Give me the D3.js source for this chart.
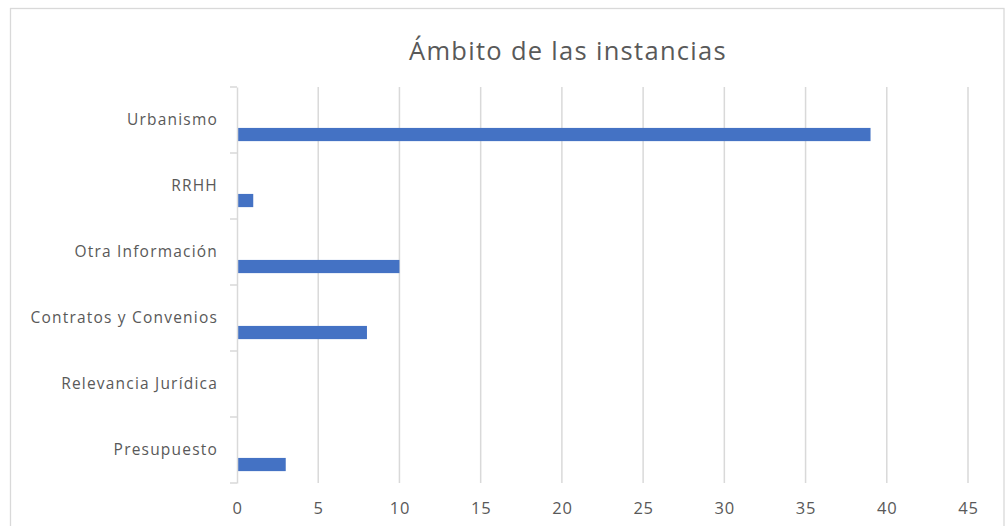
<!DOCTYPE html>
<html>
<head>
<meta charset="utf-8">
<script src="https://cdn.jsdelivr.net/npm/d3@7"></script>
<style>
  html, body { margin: 0; padding: 0; background: #ffffff; }
  svg { display: block; }
</style>
</head>
<body>
<svg id="chart" width="1008" height="526"></svg>
<script>
const categories = ["Urbanismo", "RRHH", "Otra Información", "Contratos y Convenios", "Relevancia Jurídica", "Presupuesto"];
const values = [39, 1, 10, 8, 0, 3];
const xTicks = [0, 5, 10, 15, 20, 25, 30, 35, 40, 45];
const title = "Ámbito de las instancias";

const svg = d3.select("#chart");
const FONT = "'Open Sans', 'Noto Sans', sans-serif";
const margin = { left: 237, right: 1008 - 968, top: 87, bottom: 526 - 483 };

// chart border
svg.append("rect")
  .attr("x", 10.5).attr("y", 8.5)
  .attr("width", 1004 - 10.5).attr("height", 540)
  .attr("fill", "#ffffff")
  .attr("stroke", "#d9d9d9").attr("stroke-width", 1.3);

const x = d3.scaleLinear().domain([0, 45]).range([margin.left, 968]);
const y = d3.scaleBand().domain(categories).range([margin.top, 483]).paddingInner(0).paddingOuter(0);

// gridlines
svg.append("g")
  .selectAll("line")
  .data(xTicks.filter(d => d !== 0))
  .join("line")
  .attr("x1", d => x(d)).attr("x2", d => x(d))
  .attr("y1", margin.top).attr("y2", 483)
  .attr("stroke", "#d9d9d9").attr("stroke-width", 1.5);

// bars
svg.append("g")
  .selectAll("rect")
  .data(categories.map((c, i) => ({ c, v: values[i] })))
  .join("rect")
  .attr("x", x(0))
  .attr("y", d => y(d.c) + y.bandwidth() * 0.62)
  .attr("width", d => x(d.v) - x(0))
  .attr("height", y.bandwidth() * 0.2)
  .attr("fill", "#4472c4");

// y axis
const yAxis = d3.axisLeft(y).tickSize(0).tickPadding(19);
const gy = svg.append("g").attr("transform", `translate(${x(0)},0)`).call(yAxis);
gy.select(".domain").attr("stroke", "#d9d9d9").attr("stroke-width", 1.5);
gy.selectAll("text")
  .attr("fill", "#595959")
  .style("font-family", FONT)
  .style("font-size", "15.5px")
  .style("letter-spacing", "1.2px");

// band boundary ticks
const bounds = categories.map(c => y(c)).concat([483]);
svg.append("g").selectAll("line")
  .data(bounds)
  .join("line")
  .attr("x1", x(0) - 7).attr("x2", x(0))
  .attr("y1", d => d).attr("y2", d => d)
  .attr("stroke", "#d9d9d9").attr("stroke-width", 1.5);

// x axis labels
const xAxis = d3.axisBottom(x).tickValues(xTicks).tickSize(0).tickPadding(19).tickFormat(d3.format("d"));
const gx = svg.append("g").attr("transform", `translate(0,483)`).call(xAxis);
gx.select(".domain").remove();
gx.selectAll("text")
  .attr("fill", "#595959")
  .style("font-family", FONT)
  .style("font-size", "16.5px")
  .style("letter-spacing", "0.8px");

// title
svg.append("text")
  .attr("x", 568).attr("y", 60)
  .attr("text-anchor", "middle")
  .attr("fill", "#595959")
  .style("font-family", FONT)
  .style("font-size", "25.5px")
  .style("letter-spacing", "1.3px")
  .text(title);
</script>
</body>
</html>
